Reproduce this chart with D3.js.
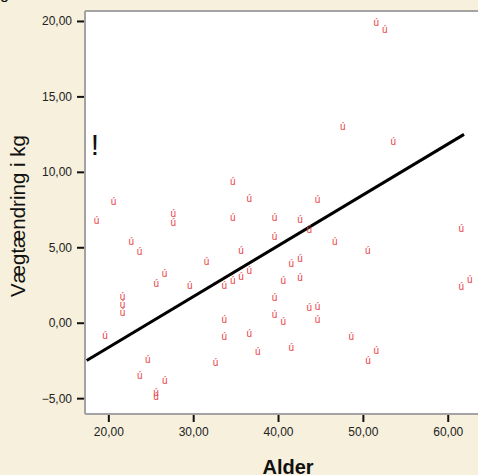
<!DOCTYPE html>
<html>
<head>
<meta charset="utf-8">
<script src="https://cdn.jsdelivr.net/npm/d3@7/dist/d3.min.js"></script>
<style>
  html, body { margin: 0; padding: 0; background: #f6f0dc; overflow: hidden; }
  svg { display: block; }
  text { font-family: Arial, "Liberation Sans", sans-serif; }
</style>
</head>
<body>
<svg id="chart" width="478" height="475"></svg>
<script>
// Age (years) of each person
const ages = [
  18.61, 20.61, 21.67, 21.67, 21.67, 19.61, 22.71, 23.68, 23.70, 24.64,
  25.65, 25.62, 25.62, 26.62, 26.65, 27.65, 27.65, 29.59, 31.57, 32.63,
  33.67, 33.67, 33.67, 34.66, 34.66, 34.66, 35.64, 35.64, 36.62, 36.62,
  36.62, 37.61, 39.59, 39.59, 39.59, 39.59, 40.61, 40.61, 41.57, 41.57,
  42.59, 42.59, 42.59, 43.69, 43.69, 44.66, 44.66, 44.66, 46.68, 47.63,
  48.64, 50.57, 50.61, 51.59, 51.59, 52.58, 53.59, 61.60, 61.60, 62.59
];
// Weight change (kg) of each person
const weightChanges = [
  6.81, 8.07, 1.77, 1.24, 0.71, -0.86, 5.38, 4.71, -3.47, -2.41,
  2.60, -4.59, -4.86, 3.29, -3.82, 7.27, 6.66, 2.50, 4.09, -2.61,
  2.50, 0.25, -0.93, 9.39, 6.97, 2.83, 4.79, 3.10, 8.27, 3.46,
  -0.73, -1.90, 6.97, 5.75, 1.67, 0.58, 2.80, 0.09, 3.97, -1.61,
  6.85, 4.24, 3.00, 6.21, 1.02, 8.17, 1.11, 0.20, 5.42, 12.99,
  -0.93, 4.80, -2.52, 19.89, -1.83, 19.45, 12.00, 6.23, 2.39, 2.90
];
// Fitted line: weight change = intercept + slope * age, over this age span
const fitIntercept = -8.38;
const fitSlope = 0.3369;
const fitAgeSpan = [17.45, 61.92];

// Axis ticks
const xTicks = [20, 30, 40, 50, 60];
const yTicks = [-5, 0, 5, 10, 15, 20];

// Flag symbol shown in the plot
const flagMark = { age: 18.43, change: 11.12, symbol: "!" };

const svg = d3.select("#chart");
const plot = { left: 85, top: 11, right: 491, bottom: 414 };

const x = d3.scaleLinear().domain([17.25, 65.1]).range([plot.left, plot.right]);
const y = d3.scaleLinear().domain([-6.05, 20.66]).range([plot.bottom, plot.top]);

const fmt = d => d3.format(".2f")(d).replace(".", ",");

// Plot area
svg.append("rect")
  .attr("x", plot.left).attr("y", plot.top)
  .attr("width", plot.right - plot.left).attr("height", plot.bottom - plot.top)
  .attr("fill", "#ffffff");

// Frame lines (left, top, bottom)
const frame = svg.append("g").attr("stroke", "#a3a3a3").attr("stroke-width", 2).attr("fill", "none");
frame.append("line").attr("x1", plot.left).attr("x2", plot.left).attr("y1", plot.top).attr("y2", plot.bottom);
frame.append("line").attr("x1", plot.left).attr("x2", plot.right).attr("y1", plot.top).attr("y2", plot.top);
frame.append("line").attr("x1", plot.left).attr("x2", plot.right).attr("y1", plot.bottom).attr("y2", plot.bottom);

// Axes
const xAxis = svg.append("g")
  .attr("transform", `translate(0,${plot.bottom + 1})`)
  .call(d3.axisBottom(x).tickValues(xTicks).tickFormat(fmt).tickSize(7).tickPadding(5));
const yAxis = svg.append("g")
  .attr("transform", `translate(${plot.left - 1},0)`)
  .call(d3.axisLeft(y).tickValues(yTicks).tickFormat(fmt).tickSize(7).tickPadding(5));

[xAxis, yAxis].forEach(a => {
  a.select(".domain").remove();
  a.selectAll(".tick line").attr("stroke", "#111").attr("stroke-width", 2);
  a.selectAll(".tick text")
    .attr("fill", "#222")
    .style("font-size", "12px")
    .style("font-family", "Arial, 'Liberation Sans', sans-serif");
});

// Fitted line
svg.append("line")
  .attr("x1", x(fitAgeSpan[0])).attr("y1", y(fitIntercept + fitSlope * fitAgeSpan[0]))
  .attr("x2", x(fitAgeSpan[1])).attr("y2", y(fitIntercept + fitSlope * fitAgeSpan[1]))
  .attr("stroke", "#000").attr("stroke-width", 3);

// Point markers
svg.append("g")
  .selectAll("text")
  .data(ages.map((a, i) => ({ age: a, change: weightChanges[i] })))
  .join("text")
  .attr("x", d => x(d.age))
  .attr("y", d => y(d.change))
  .attr("dy", "0.37em")
  .attr("text-anchor", "middle")
  .attr("fill", "#e8454a")
  .style("font-size", "10px")
  .text("ú");

// Flag symbol
svg.append("text")
  .attr("x", x(flagMark.age)).attr("y", y(flagMark.change))
  .attr("text-anchor", "middle")
  .attr("fill", "#111")
  .style("font-size", "30px")
  .text(flagMark.symbol);

// Axis titles
svg.append("text")
  .attr("x", (plot.left + plot.right) / 2).attr("y", 473.5)
  .attr("text-anchor", "middle")
  .attr("fill", "#111")
  .style("font-size", "20px").style("font-weight", "bold")
  .text("Alder");

svg.append("text")
  .attr("transform", "translate(25,216) rotate(-90)")
  .attr("text-anchor", "middle")
  .attr("fill", "#111")
  .style("font-size", "20.5px")
  .text("Vægtændring i kg");

// Descender of a heading above the visible area
svg.append("text")
  .attr("x", 0).attr("y", -1)
  .attr("fill", "#111")
  .style("font-size", "16px")
  .text("g");
</script>
</body>
</html>
